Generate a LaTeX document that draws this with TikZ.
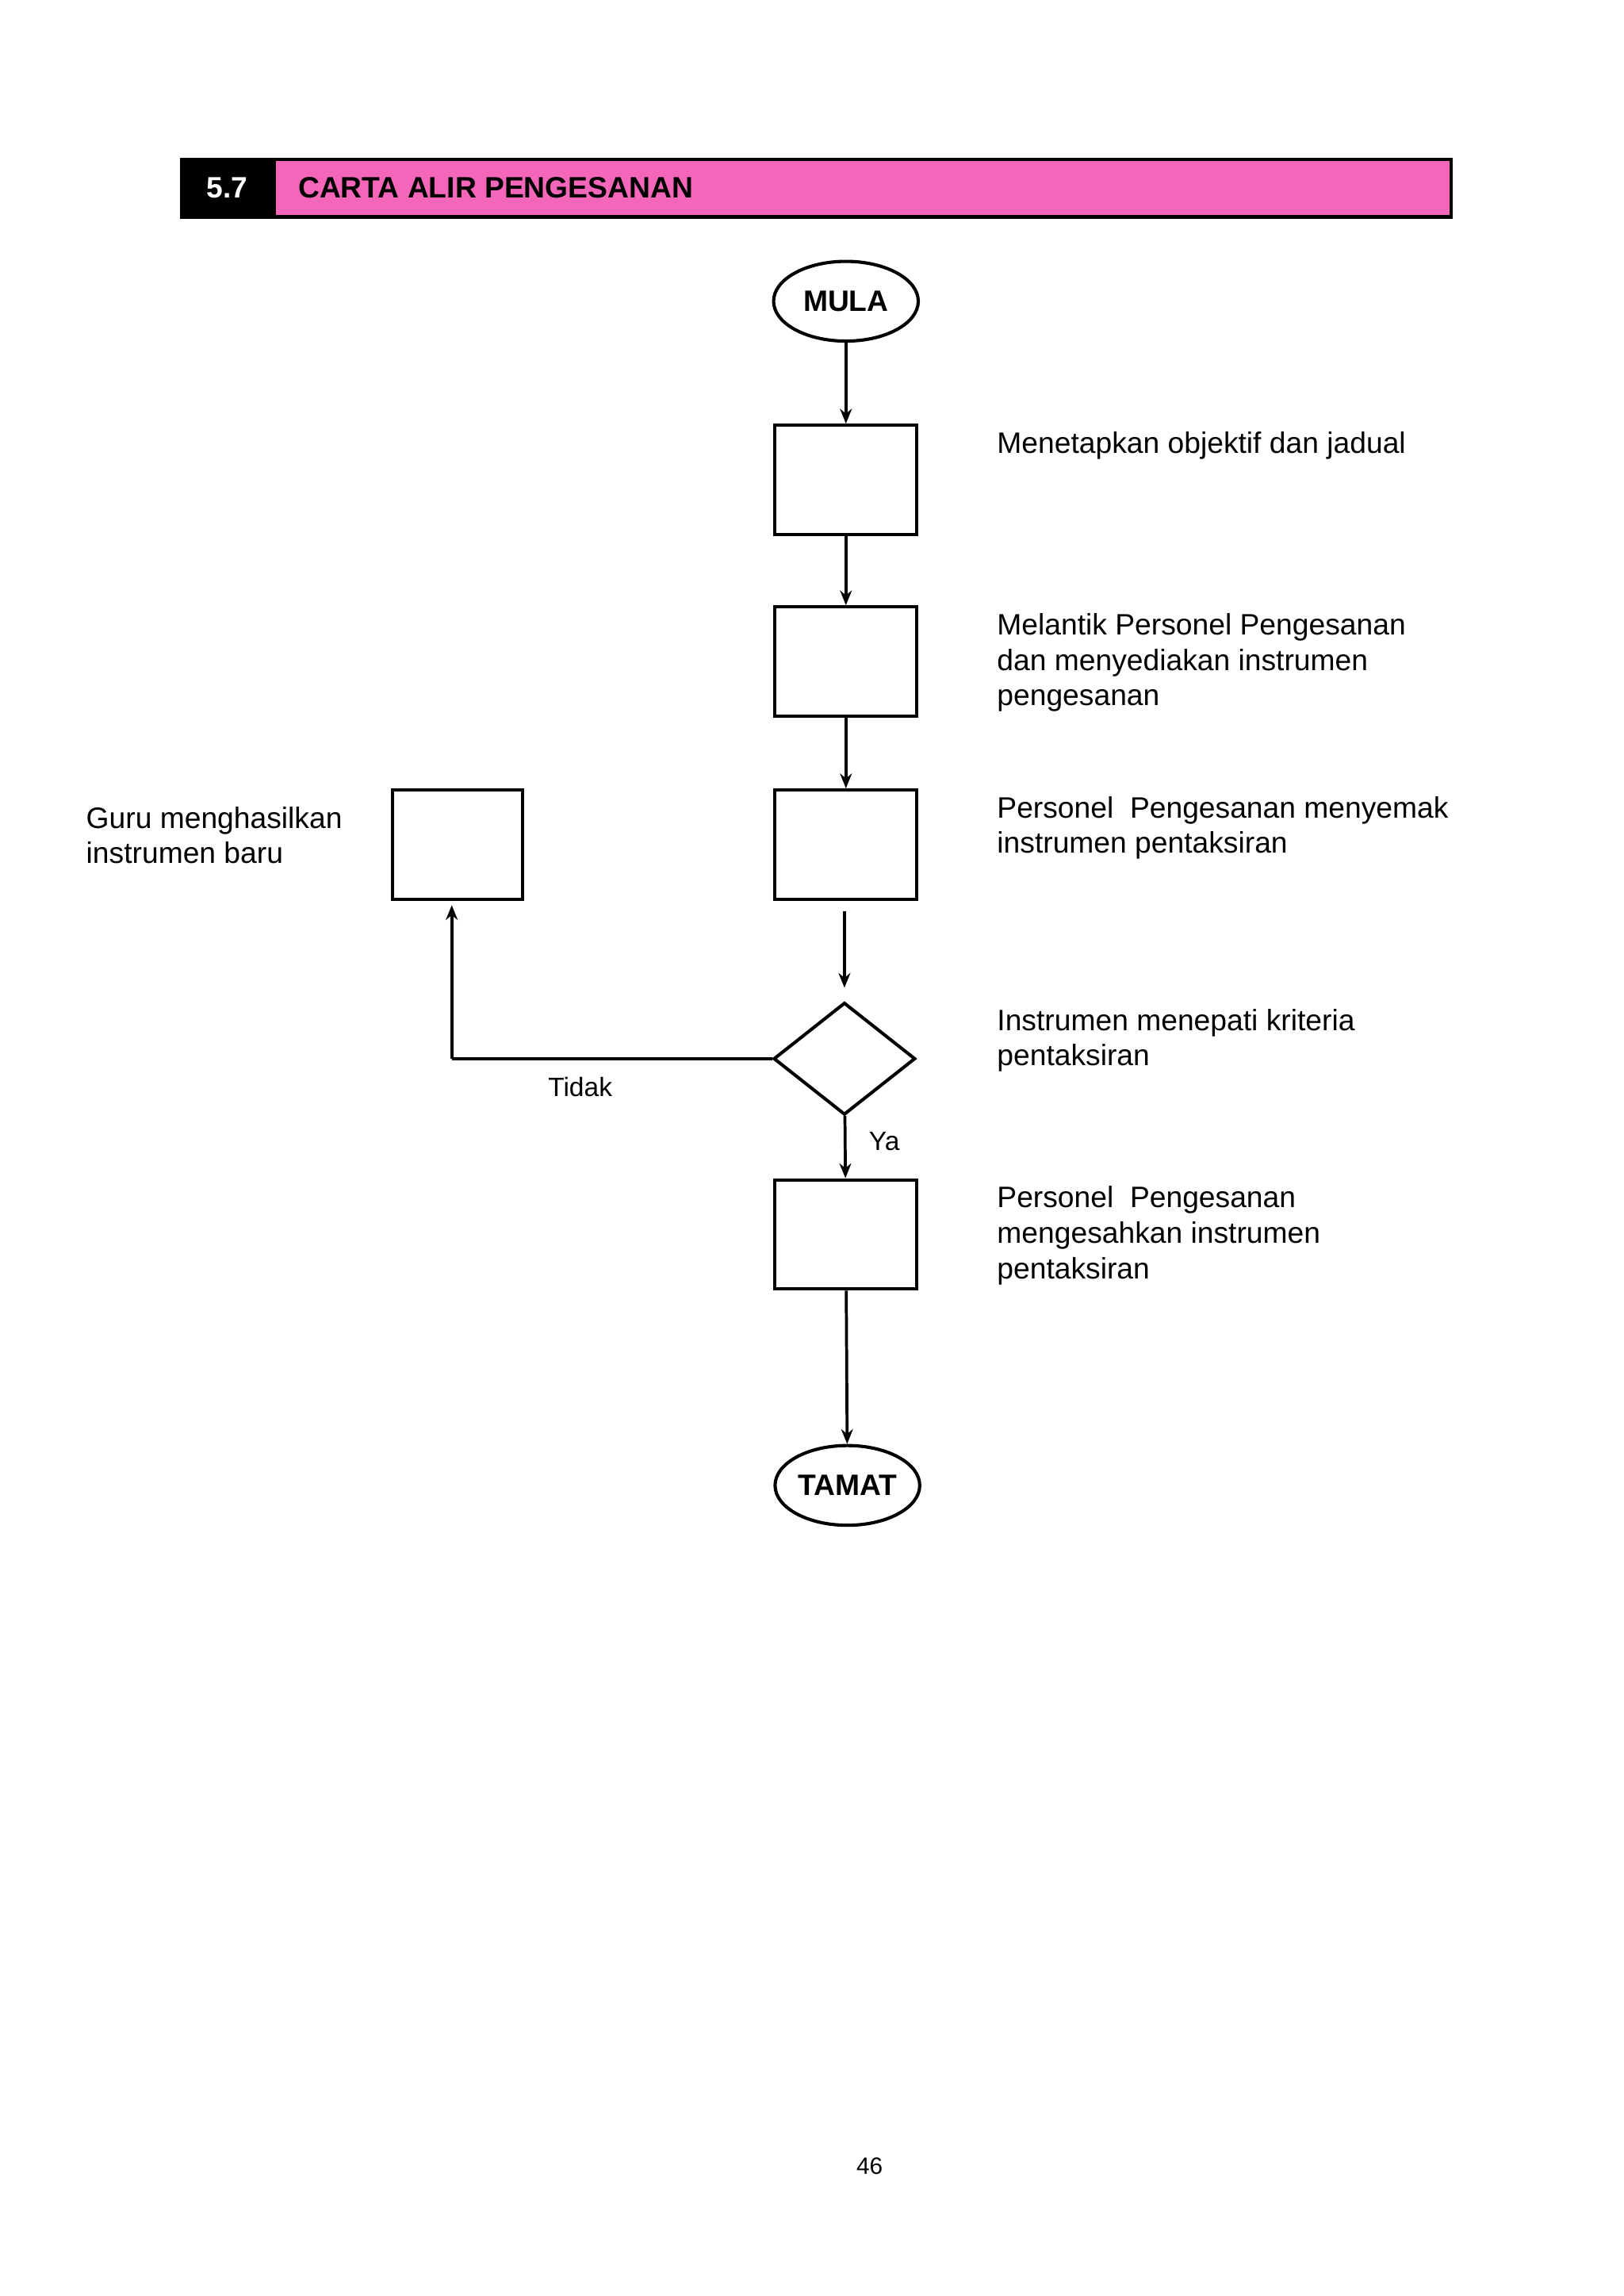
\documentclass[tikz,border=0pt]{standalone}
\usepackage{fontspec}
\setmainfont{Liberation Sans}
\usetikzlibrary{shapes.geometric,arrows.meta}
\begin{document}
\begin{tikzpicture}[x=0.5pt,y=-0.5pt,
  box/.style={draw,line width=1.1pt,minimum width=48pt,minimum height=37pt,inner sep=0pt},
  term/.style={draw,ellipse,line width=1.1pt,minimum width=49pt,minimum height=27pt,inner sep=0pt,font=\fontsize{10}{12}\selectfont\bfseries},
  lbl/.style={anchor=north west,align=left,inner sep=0pt,font=\fontsize{10}{12}\selectfont},
  arr/.style={line width=1pt,-{Stealth[length=5pt,width=4pt]}}]
\useasboundingbox (0,0) rectangle (1100,1555);
\fill[black] (123,108) rectangle (187,147);
\fill[magenta!60] (187,108) rectangle (983,147);
\draw[line width=1.2pt] (123,108) rectangle (983,147);
\node[anchor=west,text=white,font=\fontsize{10}{12}\selectfont\bfseries] (n57) at (133,127) {5.7};
\node[anchor=west,font=\fontsize{10}{12}\selectfont\bfseries] (title) at (195,127) {CARTA ALIR PENGESANAN};
\node[term] (mula) at (573,204) {MULA};
\node[box] (b1) at (573,325) {};
\node[box] (b2) at (573,448) {};
\node[box] (b3) at (573,572) {};
\node[box,minimum width=44pt] (bl) at (310,572) {};
\node[draw,diamond,line width=1.1pt,minimum width=48pt,minimum height=38pt,inner sep=0pt,aspect=1.26] (d) at (572,717) {};
\node[box] (b4) at (573,836) {};
\node[term] (tamat) at (574,1006) {TAMAT};
\coordinate (a3s) at (572,617);
\coordinate (a3e) at (572,669);
\coordinate (tk) at (306,717);
\coordinate (te) at (306,613);
\draw[arr] (mula) -- (b1);
\draw[arr] (b1) -- (b2);
\draw[arr] (b2) -- (b3);
\draw[arr] (a3s) -- (a3e);
\draw[arr] (d) -- (b4);
\draw[arr] (b4) -- (tamat);
\draw[line width=1pt] (d.west) -- (tk);
\draw[arr] (tk) -- (te);
\node[font=\fontsize{9}{11}\selectfont] (tidak) at (393,736) {Tidak};
\node[font=\fontsize{9}{11}\selectfont] (ya) at (599,773) {Ya};
\node[lbl] (t1) at (675,292) {Menetapkan objektif dan jadual};
\node[lbl] (t2) at (675,415) {Melantik Personel Pengesanan\\dan menyediakan instrumen\\pengesanan};
\node[lbl] (t3) at (675,539) {Personel\ \ Pengesanan menyemak\\instrumen pentaksiran};
\node[lbl] (t4) at (675,683) {Instrumen menepati kriteria\\pentaksiran};
\node[lbl] (t5) at (675,803) {Personel\ \ Pengesanan\\mengesahkan instrumen\\pentaksiran};
\node[lbl] (tl) at (58,546) {Guru menghasilkan\\instrumen baru};
\node[font=\fontsize{8}{10}\selectfont] (pg) at (589,1467) {46};
\end{tikzpicture}
\end{document}
